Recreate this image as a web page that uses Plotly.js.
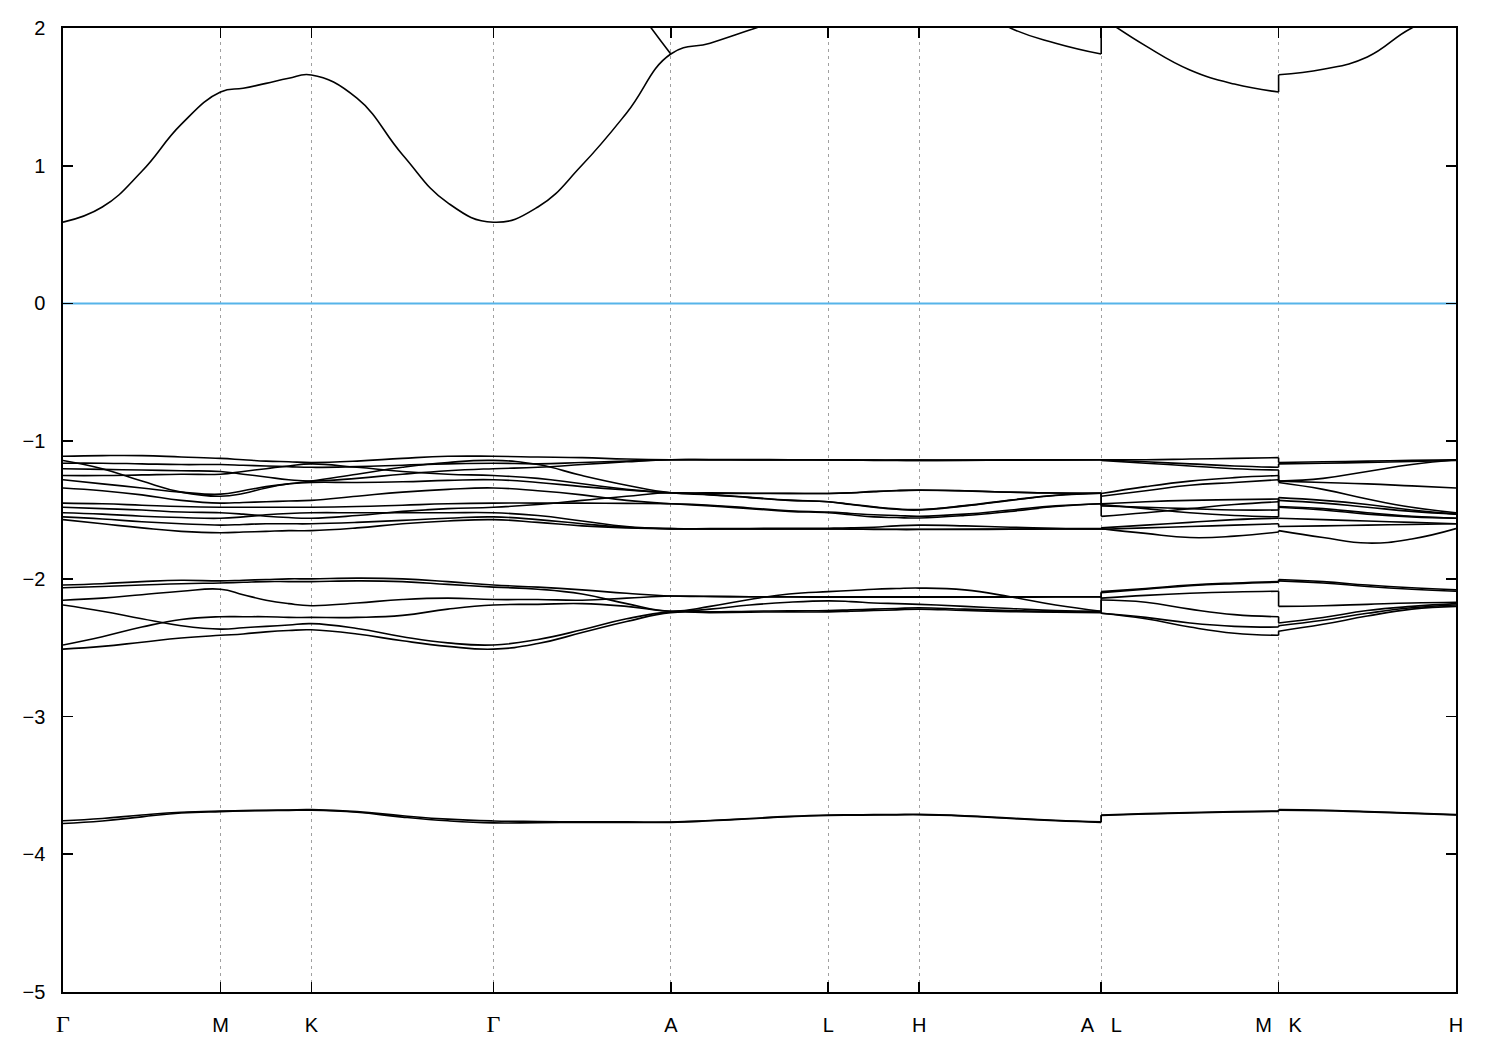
<!DOCTYPE html>
<html>
<head>
<meta charset="utf-8">
<script src="https://cdn.plot.ly/plotly-3.0.1.min.js"></script>
<style>
  html, body { margin: 0; padding: 0; background: #ffffff; }
  #chart { width: 1500px; height: 1050px; }
</style>
</head>
<body>
<div id="chart"></div>
<script>
// k-path sampling (Γ-M-K-Γ-A-L-H-A | L-M | K-H), with duplicated x at the path breaks
const kPath = [0, 0.144, 0.289, 0.433, 0.577,
  0.660, 0.744, 0.827, 0.910,
  1.077, 1.244, 1.410, 1.577,
  1.740, 1.902, 2.065, 2.227,
  2.371, 2.516, 2.660, 2.804,
  2.887, 2.971, 3.054, 3.137,
  3.304, 3.471, 3.637, 3.804,
  3.804, 3.967, 4.129, 4.292, 4.454,
  4.454, 4.617, 4.779, 4.942, 5.104];

const tickPos = [0, 0.577, 0.910, 1.577, 2.227, 2.804, 3.137, 3.804, 4.454, 5.104];
const tickLabels = ['Γ', 'M', 'K', 'Γ', 'A', 'L', 'H', 'A\u00a0\u00a0\u00a0L', 'M\u00a0\u00a0\u00a0K', 'H'];

const fermiLevel = 0;

// conduction bands
const c1 = [0.59, 0.70, 0.96, 1.30, 1.535,
  1.562, 1.598, 1.635, 1.659,
  1.49, 1.08, 0.73, 0.59,
  0.70, 1.005, 1.383, 1.811,
  1.89, 1.985, 2.08, 2.15,
  2.2, 2.25, 2.28, 2.3,
  2.2, 2.0, 1.89, 1.811,
  2.08, 1.87, 1.695, 1.593, 1.535,
  1.66, 1.70, 1.79, 2.0, 2.12];
const c2 = [3.4, 3.3, 3.2, 3.15, 3.1,
  3.1, 3.1, 3.1, 3.1,
  3.1, 3.2, 3.3, 3.4,
  3.1, 2.75, 2.25, 1.811,
  null, null, null, null,
  null, null, null, null,
  null, null, null, null,
  null, null, null, null, null,
  null, null, null, null, null];

// upper valence group
const t1 = [-1.11, -1.105, -1.105, -1.115, -1.125,
  -1.135, -1.145, -1.15, -1.155,
  -1.145, -1.125, -1.11, -1.11,
  -1.115, -1.12, -1.13, -1.135,
  -1.135, -1.136, -1.137, -1.137,
  -1.138, -1.14, -1.14, -1.14,
  -1.14, -1.138, -1.136, -1.135,
  -1.135, -1.135, -1.13, -1.125, -1.12,
  -1.155, -1.15, -1.145, -1.14, -1.135];
const t2 = [-1.14, -1.20, -1.29, -1.37, -1.40,
  -1.38, -1.34, -1.31, -1.29,
  -1.24, -1.19, -1.155, -1.14,
  -1.17, -1.25, -1.32, -1.375,
  -1.39, -1.41, -1.43, -1.44,
  -1.46, -1.48, -1.495, -1.50,
  -1.47, -1.43, -1.395, -1.378,
  -1.546, -1.52, -1.49, -1.46, -1.44,
  -1.43, -1.45, -1.48, -1.51, -1.53];
const t3 = [-1.16, -1.16, -1.165, -1.17, -1.17,
  -1.175, -1.18, -1.185, -1.19,
  -1.185, -1.175, -1.165, -1.16,
  -1.165, -1.155, -1.145, -1.135,
  -1.135, -1.135, -1.135, -1.135,
  -1.136, -1.137, -1.138, -1.138,
  -1.137, -1.136, -1.135, -1.135,
  -1.135, -1.15, -1.165, -1.18, -1.19,
  -1.165, -1.16, -1.155, -1.148, -1.14];
const t4 = [-1.20, -1.205, -1.21, -1.215, -1.22,
  -1.24, -1.26, -1.28, -1.29,
  -1.27, -1.24, -1.215, -1.20,
  -1.19, -1.17, -1.15, -1.135,
  -1.134, -1.134, -1.135, -1.136,
  -1.137, -1.138, -1.139, -1.14,
  -1.139, -1.137, -1.136, -1.135,
  -1.14, -1.16, -1.18, -1.20, -1.21,
  -1.29, -1.27, -1.22, -1.17, -1.135];
const t5 = [-1.25, -1.25, -1.245, -1.24, -1.24,
  -1.22, -1.20, -1.18, -1.165,
  -1.19, -1.22, -1.24, -1.25,
  -1.27, -1.31, -1.35, -1.375,
  -1.378, -1.38, -1.38, -1.38,
  -1.375, -1.365, -1.358, -1.355,
  -1.36, -1.37, -1.377, -1.378,
  -1.38, -1.33, -1.29, -1.265, -1.25,
  -1.29, -1.30, -1.31, -1.325, -1.34];
const t6 = [-1.28, -1.31, -1.34, -1.37, -1.385,
  -1.36, -1.33, -1.31, -1.30,
  -1.30, -1.295, -1.285, -1.28,
  -1.30, -1.33, -1.355, -1.375,
  -1.376, -1.378, -1.379, -1.38,
  -1.376, -1.367, -1.36, -1.357,
  -1.362, -1.371, -1.377, -1.378,
  -1.40, -1.36, -1.32, -1.30, -1.28,
  -1.30, -1.35, -1.42, -1.48, -1.52];
const t7 = [-1.34, -1.36, -1.39, -1.43, -1.45,
  -1.445, -1.44, -1.435, -1.43,
  -1.40, -1.37, -1.35, -1.34,
  -1.36, -1.39, -1.43, -1.455,
  -1.47, -1.49, -1.51, -1.52,
  -1.535, -1.55, -1.555, -1.558,
  -1.54, -1.51, -1.475, -1.455,
  -1.47, -1.48, -1.49, -1.50, -1.50,
  -1.41, -1.43, -1.46, -1.50, -1.53];
const t8 = [-1.45, -1.455, -1.465, -1.475, -1.48,
  -1.48, -1.48, -1.48, -1.48,
  -1.475, -1.465, -1.455, -1.45,
  -1.45, -1.45, -1.452, -1.455,
  -1.465, -1.485, -1.505, -1.515,
  -1.525, -1.535, -1.54, -1.545,
  -1.53, -1.50, -1.47, -1.455,
  -1.46, -1.49, -1.52, -1.54, -1.55,
  -1.48, -1.50, -1.53, -1.55, -1.56];
const t9 = [-1.48, -1.49, -1.50, -1.515, -1.52,
  -1.53, -1.545, -1.555, -1.56,
  -1.54, -1.51, -1.49, -1.48,
  -1.46, -1.43, -1.40, -1.375,
  -1.388, -1.408, -1.428, -1.44,
  -1.458, -1.477, -1.492, -1.497,
  -1.468, -1.428, -1.393, -1.378,
  -1.455, -1.44, -1.43, -1.425, -1.42,
  -1.475, -1.49, -1.52, -1.545, -1.56];
const t10 = [-1.52, -1.53, -1.545, -1.555, -1.56,
  -1.55, -1.535, -1.525, -1.52,
  -1.52, -1.52, -1.52, -1.52,
  -1.54, -1.58, -1.62, -1.635,
  -1.635, -1.634, -1.633, -1.632,
  -1.63, -1.625, -1.615, -1.61,
  -1.615, -1.625, -1.632, -1.635,
  -1.63, -1.61, -1.59, -1.57, -1.56,
  -1.56, -1.57, -1.58, -1.59, -1.60];
const t11 = [-1.55, -1.565, -1.585, -1.60, -1.61,
  -1.605, -1.60, -1.60, -1.60,
  -1.59, -1.575, -1.56, -1.55,
  -1.57, -1.60, -1.625, -1.635,
  -1.637, -1.637, -1.637, -1.637,
  -1.638, -1.64, -1.64, -1.64,
  -1.64, -1.638, -1.637, -1.637,
  -1.635, -1.67, -1.70, -1.69, -1.66,
  -1.65, -1.70, -1.74, -1.71, -1.635];
const t12 = [-1.57, -1.60, -1.63, -1.655, -1.665,
  -1.66, -1.655, -1.65, -1.65,
  -1.63, -1.60, -1.58, -1.57,
  -1.59, -1.615, -1.63, -1.637,
  -1.637, -1.638, -1.638, -1.638,
  -1.639, -1.641, -1.642, -1.642,
  -1.641, -1.64, -1.638, -1.637,
  -1.64, -1.63, -1.62, -1.61, -1.60,
  -1.62, -1.615, -1.61, -1.605, -1.60];

// middle valence group
const m1 = [-2.045, -2.035, -2.02, -2.01, -2.015,
  -2.01, -2.005, -2.0, -2.0,
  -1.995, -2.0, -2.02, -2.045,
  -2.06, -2.08, -2.105, -2.125,
  -2.127, -2.13, -2.13, -2.13,
  -2.13, -2.13, -2.13, -2.13,
  -2.13, -2.13, -2.13, -2.13,
  -2.093, -2.07, -2.045, -2.03, -2.02,
  -2.005, -2.02, -2.045, -2.065, -2.08];
const m2 = [-2.065, -2.055, -2.045, -2.035, -2.03,
  -2.025, -2.02, -2.02, -2.02,
  -2.015, -2.02, -2.04, -2.06,
  -2.075, -2.11, -2.18, -2.235,
  -2.20, -2.15, -2.11, -2.093,
  -2.085, -2.075, -2.07, -2.067,
  -2.08, -2.13, -2.19, -2.235,
  -2.154, -2.17, -2.22, -2.26, -2.275,
  -2.32, -2.28, -2.23, -2.20, -2.18];
const m3 = [-2.155, -2.14, -2.115, -2.09, -2.075,
  -2.115, -2.155, -2.18, -2.195,
  -2.175, -2.15, -2.14, -2.15,
  -2.15, -2.155, -2.14, -2.125,
  -2.128, -2.13, -2.132, -2.133,
  -2.133, -2.133, -2.133, -2.133,
  -2.133, -2.133, -2.132, -2.132,
  -2.14, -2.12, -2.105, -2.095, -2.09,
  -2.20, -2.195, -2.185, -2.175, -2.17];
const m4 = [-2.19, -2.235, -2.29, -2.34, -2.365,
  -2.355, -2.345, -2.335, -2.325,
  -2.36, -2.42, -2.465, -2.48,
  -2.44, -2.37, -2.29, -2.24,
  -2.24, -2.235, -2.232, -2.23,
  -2.225, -2.22, -2.215, -2.21,
  -2.22, -2.23, -2.238, -2.24,
  -2.25, -2.29, -2.35, -2.395, -2.41,
  -2.38, -2.33, -2.27, -2.22, -2.20];
const m5 = [-2.48, -2.42, -2.35, -2.295, -2.275,
  -2.275, -2.275, -2.28, -2.28,
  -2.28, -2.265, -2.22, -2.19,
  -2.185, -2.18, -2.20, -2.235,
  -2.22, -2.19, -2.17, -2.16,
  -2.165, -2.175, -2.18, -2.185,
  -2.20, -2.215, -2.23, -2.235,
  -2.25, -2.28, -2.32, -2.345, -2.35,
  -2.34, -2.30, -2.25, -2.21, -2.19];
const m6 = [-2.51, -2.49, -2.46, -2.43, -2.41,
  -2.40, -2.385, -2.375, -2.37,
  -2.40, -2.45, -2.49, -2.51,
  -2.47, -2.39, -2.31, -2.245,
  -2.245, -2.242, -2.24, -2.24,
  -2.235, -2.23, -2.225, -2.22,
  -2.23, -2.238, -2.243, -2.245,
  -2.10, -2.075, -2.05, -2.035, -2.025,
  -2.015, -2.03, -2.055, -2.075, -2.09];

// lowest valence group
const b1 = [-3.756, -3.74, -3.715, -3.695, -3.686,
  -3.683, -3.68, -3.678, -3.676,
  -3.69, -3.72, -3.745, -3.758,
  -3.762, -3.764, -3.765, -3.766,
  -3.755, -3.74, -3.725, -3.715,
  -3.713, -3.712, -3.711, -3.71,
  -3.72, -3.737, -3.753, -3.765,
  -3.715, -3.705, -3.697, -3.69, -3.686,
  -3.676, -3.68, -3.69, -3.70, -3.712];
const b2 = [-3.776, -3.758, -3.728, -3.70, -3.69,
  -3.686, -3.683, -3.681, -3.68,
  -3.695, -3.73, -3.757, -3.772,
  -3.77, -3.769, -3.768, -3.768,
  -3.757, -3.742, -3.727, -3.718,
  -3.716, -3.715, -3.714, -3.713,
  -3.723, -3.74, -3.756, -3.768,
  -3.718, -3.708, -3.70, -3.693, -3.689,
  -3.679, -3.683, -3.693, -3.703, -3.715];

const bands = [c1, c2, t1, t2, t3, t4, t5, t6, t7, t8, t9, t10, t11, t12,
  m1, m2, m3, m4, m5, m6, b1, b2];

// indices where the path is broken (A|L and M|K)
const breakAfter = [28, 33];

const traces = [];
const lineStyle = {color: '#000000', width: 1.6};

bands.forEach(function (band) {
  const xs = [], ys = [];
  for (let i = 0; i < kPath.length; i++) {
    xs.push(kPath[i]); ys.push(band[i]);
    if (breakAfter.indexOf(i) >= 0) { xs.push(null); ys.push(null); }
  }
  traces.push({x: xs, y: ys, type: 'scatter', mode: 'lines',
    line: Object.assign({shape: 'spline', smoothing: 1.3}, lineStyle),
    connectgaps: false, hoverinfo: 'skip', showlegend: false});
  // vertical connectors at the path breaks
  const cx = [], cy = [];
  breakAfter.forEach(function (i) {
    if (band[i] !== null && band[i + 1] !== null) {
      cx.push(kPath[i], kPath[i + 1], null);
      cy.push(band[i], band[i + 1], null);
    }
  });
  if (cx.length) {
    traces.push({x: cx, y: cy, type: 'scatter', mode: 'lines',
      line: lineStyle, hoverinfo: 'skip', showlegend: false});
  }
});

traces.push({x: [kPath[0], kPath[kPath.length - 1]], y: [fermiLevel, fermiLevel],
  type: 'scatter', mode: 'lines', line: {color: '#56b4e9', width: 2},
  hoverinfo: 'skip', showlegend: false});

const tickText = tickLabels.map(function (t) {
  return t === 'Γ' ? '<span style="font-family:\'Liberation Serif\',\'DejaVu Serif\',serif;font-size:24px">Γ</span>' : t;
});

const layout = {
  width: 1500, height: 1050,
  margin: {l: 63, r: 44, t: 28, b: 58, pad: 0},
  paper_bgcolor: '#ffffff', plot_bgcolor: '#ffffff',
  font: {family: '"Liberation Sans", Arial, sans-serif', size: 20, color: '#000000'},
  showlegend: false,
  xaxis: {
    range: [kPath[0], kPath[kPath.length - 1]],
    tickmode: 'array', tickvals: tickPos, ticktext: tickText,
    ticks: 'inside', ticklen: 10, tickwidth: 1.6, tickcolor: '#000000',
    showline: true, linecolor: '#000000', linewidth: 1.6, mirror: 'ticks',
    showgrid: true, gridcolor: '#a0a0a0', gridwidth: 1, griddash: '3px,4px',
    zeroline: false, ticklabelstandoff: 14,
    tickfont: {size: 20, family: '"Liberation Sans", Arial, sans-serif', color: '#000000'}
  },
  yaxis: {
    range: [-5, 2], tickmode: 'linear', tick0: -5, dtick: 1,
    ticks: 'inside', ticklen: 10, tickwidth: 1.6, tickcolor: '#000000',
    showline: true, linecolor: '#000000', linewidth: 1.6, mirror: 'ticks',
    showgrid: false, zeroline: false, ticklabelstandoff: 12,
    tickfont: {size: 20, family: '"Liberation Sans", Arial, sans-serif', color: '#000000'}
  }
};

Plotly.newPlot('chart', traces, layout, {displayModeBar: false, staticPlot: true});
</script>
</body>
</html>
